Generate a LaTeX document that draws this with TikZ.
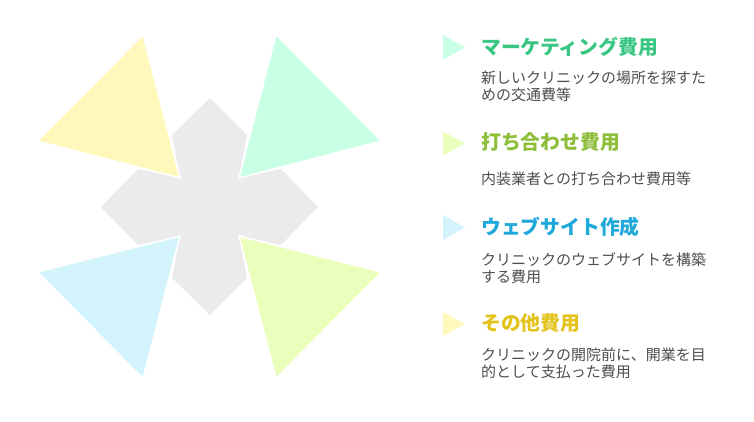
\documentclass[tikz,border=0pt]{standalone}
\usepackage{fontspec}
\setmainfont{Noto Sans CJK JP}
\usepackage{tikz}
\definecolor{crossgray}{HTML}{EBEBEB}
\definecolor{palegreen}{HTML}{C9FFE4}
\definecolor{palelime}{HTML}{EAFFBB}
\definecolor{paleblue}{HTML}{D3F4FD}
\definecolor{paleyellow}{HTML}{FFF8BA}
\definecolor{titlegreen}{HTML}{38C682}
\definecolor{titlelime}{HTML}{8DBE3A}
\definecolor{titleblue}{HTML}{1FA8DA}
\definecolor{titleyellow}{HTML}{E3C31C}
\definecolor{desctext}{HTML}{4D4D4D}

\begin{document}
\begin{tikzpicture}[x = 1pt, y = -1pt,
                        petal/.style = {draw = white, line width = 1.5pt, line join = miter},
                        title/.style = {anchor = west, inner sep = 0pt, font = \fontsize{19.8}{22}\selectfont\bfseries},
                        desc/.style = {anchor = west, inner sep = 0pt, align = left, text = desctext,
                                       font = \fontsize{15}{17.2}\selectfont}]
      \useasboundingbox (0, 0) rectangle (754, 422);

      \fill [crossgray] (210, 98) -- (247, 135) -- (239, 178) -- (281, 169) -- (318, 207)
            -- (281, 245) -- (239, 236) -- (247, 278) -- (210, 315) -- (172, 278)
            -- (180, 236) -- (138, 245) -- (101, 207) -- (138, 169) -- (180, 178)
            -- (172, 135) -- cycle;

      \filldraw [petal, fill = paleyellow] (143, 34.5) -- (37.5, 141) -- (180, 178) -- cycle;
      \filldraw [petal, fill = palegreen] (276, 34.5) -- (381.5, 141) -- (239, 178) -- cycle;
      \filldraw [petal, fill = paleblue] (37.5, 272) -- (143, 378.5) -- (180, 236) -- cycle;
      \filldraw [petal, fill = palelime] (381.5, 272) -- (276, 378.5) -- (239, 236) -- cycle;

      \fill [palegreen] (443, 35) -- (465, 47.5) -- (443, 60) -- cycle;
      \fill [palelime] (443, 131.5) -- (465, 143.5) -- (443, 155.5) -- cycle;
      \fill [paleblue] (443, 215) -- (465, 227.5) -- (443, 240) -- cycle;
      \fill [paleyellow] (443, 312) -- (465, 324) -- (443, 336) -- cycle;

      \node [title, text = titlegreen] (mkt) at (481, 47) {マーケティング費用};
      \node [desc] (mktdesc) at (481, 86.7) {新しいクリニックの場所を探すた\\めの交通費等};

      \node [title, text = titlelime] (mtg) at (481, 142) {打ち合わせ費用};
      \node [desc] (mtgdesc) at (481, 178.3) {内装業者との打ち合わせ費用等};

      \node [title, text = titleblue] (web) at (481, 227) {ウェブサイト作成};
      \node [desc] (webdesc) at (481, 268) {クリニックのウェブサイトを構築\\する費用};

      \node [title, text = titleyellow] (etc) at (481, 323.5) {その他費用};
      \node [desc] (etcdesc) at (481, 363.3) {クリニックの開院前に、開業を目\\的として支払った費用};
      \end{tikzpicture}
\end{document}
